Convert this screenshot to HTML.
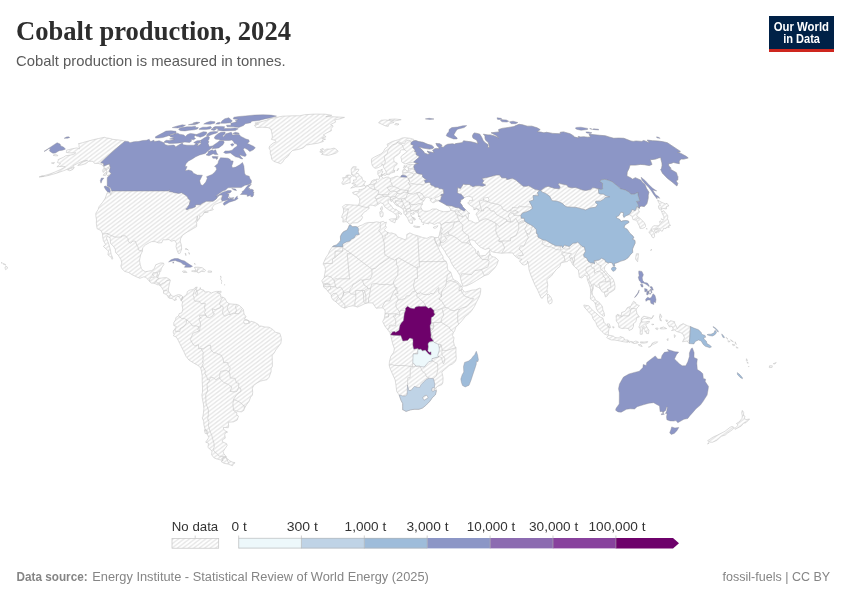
<!DOCTYPE html>
<html><head><meta charset="utf-8"><title>Cobalt production, 2024</title>
<style>
html,body{margin:0;padding:0;background:#fff;}
body{width:850px;height:600px;overflow:hidden;position:relative;font-family:"Liberation Sans",sans-serif;}
svg{position:absolute;left:0;top:0;will-change:transform;}
text{font-family:"Liberation Sans",sans-serif;}
.land{fill:url(#hatch);stroke:#c6c6c6;stroke-width:0.6;stroke-linejoin:round;}
.bord{fill:none;stroke:#c6c6c6;stroke-width:0.6;stroke-linejoin:round;}
.cc{stroke:#8a8a96;stroke-width:0.4;stroke-linejoin:round;}
.title{font-family:"Liberation Serif",serif;font-weight:bold;font-size:27px;fill:#2d2d2d;}
.sub{font-size:14.2px;fill:#5b5b5b;}
.lg{font-size:12.8px;fill:#333;text-anchor:middle;}
.ft{font-size:12.3px;fill:#858585;}
.logo{font-size:12px;font-weight:bold;fill:#fff;}
</style></head><body>
<svg width="850" height="600" viewBox="0 0 850 600">
<defs>
<pattern id="hatch" patternUnits="userSpaceOnUse" width="5.45" height="4.17">
<path d="M-5.45,8.34L10.9,-4.17M-5.45,4.17L5.45,-4.17M0,8.34L10.9,0" stroke="#e5e5e5" stroke-width="1.4" fill="none"/>
</pattern>
</defs>
<rect width="850" height="600" fill="#fff"/>
<text class="title" x="16" y="40.2" textLength="275" lengthAdjust="spacingAndGlyphs">Cobalt production, 2024</text>
<text class="sub" x="16" y="66" textLength="269.5" lengthAdjust="spacingAndGlyphs">Cobalt production is measured in tonnes.</text>
<!-- logo -->
<rect x="769" y="16" width="65" height="36" fill="#002147"/>
<rect x="769" y="49" width="65" height="3" fill="#ce261e"/>
<text class="logo" x="773.8" y="30.7" textLength="55.2" lengthAdjust="spacingAndGlyphs">Our World</text>
<text class="logo" x="783.2" y="42.7" textLength="36.8" lengthAdjust="spacingAndGlyphs">in Data</text>
<g id="map">
<path class="land" fill-rule="evenodd" d="M111.7,190.9L118.0,190.9L128.2,190.9L138.3,190.9L148.5,190.9L158.7,190.9L168.6,190.9L169.0,189.9L169.7,190.1L169.3,191.7L172.4,191.9L174.1,192.7L176.4,192.9L178.6,193.4L181.5,192.7L184.5,194.5L187.0,196.3L187.6,197.3L188.5,199.1L190.3,200.4L189.2,204.8L187.9,206.4L187.5,207.4L185.7,209.0L186.9,209.8L189.7,208.5L192.6,208.0L195.4,206.8L195.3,205.2L196.6,204.7L200.6,204.7L201.9,203.5L206.3,201.2L213.0,201.2L216.3,198.9L217.6,196.8L219.9,194.9L221.7,195.1L222.5,195.8L221.3,199.4L222.1,200.7L222.4,201.7L218.6,203.0L215.0,204.3L212.9,206.4L211.9,208.0L213.4,209.5L211.8,210.3L209.8,210.6L206.7,211.1L203.9,212.4L208.4,211.9L203.8,212.9L202.9,215.0L200.6,216.8L199.7,215.5L199.8,218.2L197.1,221.6L197.7,218.7L197.4,216.1L196.0,221.6L196.7,223.2L196.6,226.6L193.8,228.2L190.4,230.3L187.1,232.1L182.5,235.3L180.6,238.7L180.2,241.3L181.3,244.8L181.7,249.0L180.1,253.2L178.4,253.5L177.3,250.8L176.0,246.6L176.5,243.2L174.4,240.3L171.3,241.3L169.0,239.5L165.6,239.8L162.9,239.8L161.8,242.7L158.4,242.9L155.1,241.6L151.8,241.6L149.8,242.4L145.6,244.8L142.7,247.7L142.4,251.2L140.6,255.0L139.5,260.3L140.2,264.3L141.4,268.5L142.6,270.1L145.3,271.7L148.8,271.1L151.7,270.6L154.2,268.8L155.7,264.8L160.3,263.0L163.5,263.0L163.9,264.5L161.4,268.2L160.7,271.4L159.7,270.9L159.6,273.5L157.5,277.7L159.0,278.3L161.8,278.0L164.1,277.7L166.7,277.7L169.9,279.6L170.3,280.4L169.3,284.1L168.5,288.3L168.3,290.9L170.6,294.3L171.7,295.9L173.8,296.4L176.9,295.1L179.0,294.6L181.5,295.4L182.6,296.8L181.2,300.7L180.2,298.6L178.0,295.9L175.6,297.8L176.4,299.9L174.0,300.4L172.5,298.6L169.7,298.3L167.9,297.2L168.0,295.9L165.8,294.3L163.5,293.3L163.5,290.6L161.0,286.4L159.5,285.4L160.5,284.6L157.7,284.8L154.4,283.3L151.2,283.0L149.5,281.4L145.8,277.2L143.5,276.9L139.9,278.3L135.5,276.4L132.3,274.8L128.5,272.5L124.7,271.4L121.7,268.5L120.8,265.9L121.9,263.0L120.9,259.5L118.3,255.3L115.5,252.4L115.3,249.2L113.5,246.3L110.5,243.4L110.1,237.9L107.2,236.1L106.5,238.2L108.0,241.9L109.0,244.8L110.4,249.8L111.2,254.3L112.9,258.5L111.9,259.3L111.5,257.7L107.9,254.8L108.5,251.1L105.2,248.2L103.4,246.3L105.7,244.5L103.4,240.8L102.6,236.3L102.6,234.0L101.0,230.5L97.1,228.7L96.3,223.2L96.5,220.0L95.8,215.5L95.9,213.2L98.1,209.5L99.1,206.6L102.7,202.2L105.3,198.1L107.2,192.7L111.0,193.2L110.3,195.2L111.5,193.7L112.3,190.9L111.7,190.9ZM125.1,141.2L120.7,144.7L115.3,149.3L110.1,153.9L104.9,158.7L100.7,162.7L103.5,163.2L103.8,166.1L107.1,164.7L109.7,163.9L109.6,165.1L110.3,167.3L109.3,171.7L111.3,173.5L109.2,175.7L107.8,176.2L106.6,174.5L106.5,171.3L105.4,168.3L104.0,167.8L103.1,165.9L101.0,164.2L98.1,163.4L94.4,163.4L93.0,161.3L88.7,161.3L85.9,163.6L81.6,164.9L77.7,165.4L81.9,162.2L87.6,160.3L83.1,161.0L77.6,163.4L73.6,165.4L73.6,166.4L69.8,168.3L63.4,170.8L56.5,173.2L49.6,175.2L44.0,176.5L40.6,176.7L45.7,175.2L49.9,174.0L55.0,172.0L60.5,169.5L65.4,166.8L64.0,166.4L61.2,166.4L56.9,166.8L60.6,163.7L57.4,162.5L58.2,160.6L58.1,159.6L63.5,157.2L65.6,155.8L70.1,155.1L73.7,154.4L75.8,152.8L72.5,153.0L69.6,152.8L66.3,152.5L66.6,150.2L72.2,148.8L76.9,147.9L79.5,148.8L79.0,146.8L79.1,144.5L78.3,143.8L82.5,142.7L88.4,141.0L93.7,139.6L98.7,138.5L104.4,137.3L106.2,137.9L110.3,138.5L112.5,139.3L116.8,139.8L121.2,140.3L125.1,141.2ZM280.5,163.7L277.8,162.7L273.7,161.3L271.7,159.1L271.3,156.3L270.3,153.5L270.3,150.4L269.0,148.1L269.7,145.9L273.0,143.2L276.1,141.8L275.2,140.3L271.4,139.4L272.4,137.2L272.2,134.9L271.6,131.7L270.9,129.0L268.0,127.6L262.1,127.2L256.4,127.6L254.6,126.0L255.2,124.5L258.6,124.1L254.9,123.1L260.6,121.8L266.4,120.3L268.9,119.0L274.2,117.8L282.6,116.2L292.7,115.8L299.7,115.8L304.5,114.7L314.5,114.1L325.3,114.2L331.8,115.3L325.8,116.5L331.3,116.7L338.3,117.0L344.5,117.4L339.2,119.0L334.7,119.9L335.6,122.1L330.6,124.5L333.2,126.0L331.1,128.6L331.4,130.7L327.0,132.8L323.3,134.9L326.1,136.8L321.7,138.1L325.6,139.2L322.0,140.3L323.5,141.4L318.0,143.2L310.9,144.3L306.5,145.0L303.1,147.9L298.2,149.5L292.7,150.4L290.2,152.8L288.1,156.3L284.5,159.1L282.6,162.2ZM182.6,296.8L183.7,297.0L185.4,295.4L186.9,294.3L187.3,291.7L189.0,290.4L190.4,289.9L193.2,289.6L195.2,287.5L197.3,287.0L195.8,289.1L196.8,290.6L195.5,294.1L197.0,295.4L197.6,292.5L196.6,290.6L199.7,289.6L200.3,287.5L200.6,289.3L203.8,290.1L204.6,292.0L208.8,291.7L211.5,293.0L213.2,292.2L216.2,291.4L218.8,291.4L217.1,292.8L219.4,293.5L220.9,294.9L220.6,297.0L222.9,297.2L225.2,298.6L226.5,301.5L229.0,303.8L232.2,304.1L236.7,304.4L239.2,305.4L241.9,307.8L243.3,309.4L244.1,314.1L246.0,316.7L244.3,319.1L248.1,320.2L249.5,323.3L250.9,321.2L254.6,322.3L258.3,324.4L258.8,326.2L261.1,326.0L264.9,327.0L269.1,327.2L272.6,329.4L275.7,332.3L279.9,333.4L281.1,337.3L281.4,339.7L280.8,343.4L277.8,347.3L275.8,350.0L273.7,353.7L272.1,355.2L272.3,360.5L272.4,366.3L271.1,368.4L271.1,371.6L269.0,377.4L266.8,379.8L263.9,380.3L260.6,381.1L257.1,382.9L253.6,385.6L252.3,388.2L252.7,392.2L252.4,395.1L250.6,397.2L249.0,401.4L246.6,404.6L244.3,408.5L243.8,410.4L241.6,411.8L238.8,411.7L235.0,410.6L233.4,409.0L233.5,410.6L236.8,412.7L236.8,415.1L238.5,416.1L237.2,420.1L233.3,421.9L228.2,422.2L228.7,425.9L228.3,427.7L223.3,427.4L223.6,429.3L225.8,431.1L227.6,432.1L225.7,432.7L224.7,434.5L225.3,438.1L222.3,439.9L222.3,441.7L226.7,443.8L227.1,445.6L224.8,448.9L223.1,451.5L223.7,453.5L226.3,456.8L224.1,457.3L221.8,458.1L222.7,460.6L220.0,459.8L217.3,459.1L214.3,458.1L211.6,454.8L212.0,451.0L207.9,447.4L208.6,443.3L205.7,442.2L207.0,440.2L208.8,437.6L207.4,434.2L207.9,431.3L205.2,429.5L203.9,424.8L203.7,421.1L202.1,417.7L202.8,417.2L203.3,414.0L203.9,408.5L203.4,404.0L202.5,399.5L201.9,395.1L202.5,392.2L202.5,387.4L202.2,381.6L202.2,376.1L201.5,371.3L200.7,368.0L198.1,365.5L193.5,362.9L188.9,360.0L186.0,356.3L183.8,351.6L181.4,346.8L179.8,343.6L177.5,338.9L176.3,337.1L173.4,335.7L174.1,334.4L173.1,332.0L173.9,329.9L175.3,328.6L176.4,326.5L173.8,325.5L173.8,322.6L175.6,319.8L175.9,317.5L178.5,316.0L179.2,313.6L181.8,312.8L182.8,309.4L182.0,304.9L182.6,301.7L181.2,300.7ZM349.3,225.3L350.6,225.0L352.3,226.8L355.6,226.6L357.4,227.1L359.6,225.8L362.2,225.0L365.0,223.4L368.7,222.4L373.1,222.6L376.3,221.8L379.6,222.4L383.5,221.3L384.9,222.9L386.4,222.1L385.4,225.3L386.4,227.4L384.4,229.5L386.7,232.1L389.9,233.2L391.6,232.9L396.1,234.5L397.4,236.9L401.2,238.2L405.1,239.8L406.8,237.9L406.8,234.5L409.8,232.9L413.7,234.7L417.8,235.8L422.3,237.4L426.9,238.4L429.6,236.9L431.6,236.6L434.1,237.1L435.1,240.5L434.9,240.8L437.6,246.1L438.9,249.2L441.3,253.7L443.1,256.6L443.0,259.0L446.3,261.6L447.2,264.3L447.4,268.2L448.2,270.6L450.8,272.2L452.5,277.5L453.7,279.8L457.3,281.4L460.2,284.8L461.9,286.4L462.4,288.3L461.3,289.3L462.5,289.6L464.9,292.2L468.3,291.2L472.0,290.1L475.4,289.9L479.8,288.1L480.8,288.5L480.6,292.1L480.0,294.9L478.5,298.3L476.3,302.5L474.3,306.7L471.6,310.7L469.3,313.3L465.4,316.5L462.4,320.2L459.8,323.1L457.4,325.7L455.8,327.3L454.6,331.0L453.4,332.6L452.4,335.5L454.0,337.8L453.4,341.5L454.5,345.8L456.0,347.6L455.9,352.9L456.3,358.4L455.5,361.3L452.6,363.9L449.1,365.5L446.9,367.6L444.5,369.7L441.8,372.1L442.8,376.1L443.1,378.2L442.8,382.7L442.0,384.5L437.6,386.4L435.9,388.2L436.4,390.6L435.4,394.8L432.3,397.7L429.7,401.4L425.6,405.6L422.5,408.0L418.9,409.3L414.2,409.3L410.7,409.8L406.1,411.4L403.6,410.1L402.7,409.8L402.7,406.1L402.7,403.5L401.0,400.3L399.2,395.1L396.7,391.4L396.0,385.6L395.2,380.0L392.8,374.8L389.7,367.6L389.2,365.1L389.4,361.8L390.8,356.3L393.7,352.3L394.4,348.7L392.6,343.6L390.8,335.7L390.6,334.9L389.9,332.6L387.8,329.9L384.8,326.0L382.7,321.5L384.1,318.9L384.6,317.0L385.0,313.6L385.2,311.2L384.5,309.4L382.2,307.8L378.5,308.0L376.2,308.3L374.8,306.2L372.7,303.0L368.5,302.8L365.0,303.6L361.0,305.5L357.5,307.1L355.0,306.2L352.9,305.8L348.7,306.5L344.7,308.2L341.3,306.7L337.1,303.0L335.5,301.5L333.2,300.1L331.3,297.2L331.4,294.9L328.4,292.2L327.5,290.6L323.6,287.0L323.4,284.3L321.8,280.8L324.2,277.5L324.8,273.5L325.5,269.6L324.9,266.7L323.3,264.3L323.4,263.2L325.8,257.7L328.4,254.0L329.7,250.6L332.5,246.6L333.2,246.0L336.4,245.0L339.3,242.4L340.6,240.3L340.4,236.6L341.6,234.0L343.4,231.8L347.2,230.0L348.6,227.1ZM413.9,140.7L415.8,140.5L418.7,141.6L423.1,142.3L427.1,144.1L431.8,145.4L433.8,147.2L432.9,148.6L429.5,149.1L423.1,148.1L418.4,146.8L420.7,148.6L423.8,151.6L424.3,153.0L427.5,154.2L430.1,153.9L428.6,153.0L427.2,151.1L429.5,151.8L432.9,152.5L434.2,152.5L432.6,150.4L434.7,148.8L436.3,148.4L439.1,148.8L438.8,147.2L437.1,145.9L435.9,143.4L439.8,143.8L442.0,145.2L441.0,147.0L443.7,147.2L444.8,145.7L447.6,144.3L452.6,143.8L454.5,144.3L455.9,143.6L459.8,143.0L462.2,142.7L463.7,140.7L464.7,141.0L471.0,141.8L474.9,142.7L478.1,143.8L476.8,140.3L473.0,138.1L472.4,135.9L473.4,133.8L474.4,133.0L477.1,133.4L479.8,134.2L481.5,137.0L483.0,140.3L485.1,142.7L488.1,144.7L487.8,147.9L489.5,147.0L488.9,144.7L488.3,142.5L485.7,140.3L485.0,138.1L485.0,135.9L483.4,134.2L487.9,134.9L490.3,134.9L494.4,135.9L498.9,138.1L496.2,135.5L491.2,132.8L499.1,131.9L498.6,129.6L502.1,128.4L508.8,127.4L514.0,126.6L515.9,125.6L519.1,124.3L522.5,124.8L527.3,126.2L531.9,126.2L537.0,127.8L540.2,129.6L537.1,131.7L540.8,132.1L543.9,132.8L546.6,132.3L552.7,133.4L560.4,133.8L560.2,132.3L563.6,131.9L570.1,133.8L573.6,135.9L573.7,136.8L578.8,138.1L578.3,136.4L580.7,137.0L583.7,136.8L587.6,137.2L590.6,137.0L589.3,134.9L589.2,134.0L591.9,134.5L599.6,135.3L605.1,135.7L609.8,137.2L613.8,138.3L618.5,138.1L623.8,138.3L630.9,141.0L633.2,141.4L636.0,141.0L641.7,141.4L643.7,140.5L649.9,143.0L647.2,140.1L652.4,140.7L657.8,141.0L662.2,141.6L667.3,142.7L680.4,151.4L679.6,152.1L677.3,152.3L680.4,153.2L686.1,156.3L688.2,157.9L683.9,159.1L681.2,159.1L679.1,161.0L679.3,163.7L673.5,162.5L671.0,163.4L668.5,163.7L668.8,165.9L671.1,168.3L669.7,168.8L676.4,172.7L677.3,175.7L677.9,176.7L677.7,180.0L675.9,180.7L677.8,183.5L676.9,186.0L672.2,182.0L667.3,178.2L662.5,173.2L660.7,169.5L661.6,168.3L662.1,165.4L662.0,163.0L661.1,159.8L660.8,157.5L658.7,157.9L655.6,159.1L653.2,159.4L650.1,159.8L652.0,164.4L649.2,165.6L644.4,164.7L640.4,164.4L635.6,165.1L630.0,165.1L628.9,168.8L627.2,172.0L626.9,176.0L630.4,177.7L632.7,179.2L635.3,177.7L640.9,180.2L642.7,182.7L644.9,184.5L646.4,188.3L648.9,192.2L648.2,195.2L648.2,198.1L647.5,201.2L646.8,203.8L644.3,206.6L640.9,206.1L639.5,207.4L639.4,208.2L639.4,208.2L638.4,209.8L639.5,212.1L637.0,214.2L636.8,216.1L639.5,217.9L640.8,219.2L643.9,222.1L645.4,224.7L645.5,226.6L644.5,227.6L642.6,228.4L640.0,228.4L639.4,226.0L638.0,223.4L637.8,222.1L635.6,220.1L632.9,219.5L632.5,218.2L632.1,216.1L630.2,215.3L629.1,214.5L629.1,214.5L625.9,215.8L623.9,217.4L623.2,215.5L623.5,212.7L620.9,212.1L618.8,215.8L616.1,216.8L616.6,217.9L619.9,219.5L621.0,221.6L622.9,220.8L625.8,220.5L628.6,221.1L629.0,222.4L625.2,224.7L623.9,227.4L627.1,229.2L630.0,233.4L633.0,236.1L633.9,237.9L632.2,239.0L635.0,240.5L635.1,243.2L633.9,245.8L632.5,249.0L632.7,252.4L630.1,255.0L628.1,257.7L625.1,259.8L622.6,260.6L620.8,261.1L617.2,262.7L614.2,263.5L614.8,265.9L613.5,266.1L612.3,263.0L609.9,262.4L608.6,263.0L608.6,263.0L606.2,264.8L604.7,266.9L604.4,269.6L606.5,272.2L608.1,274.3L611.5,277.2L613.2,279.3L614.6,283.3L615.0,286.7L614.6,289.6L610.9,292.2L609.5,292.5L606.8,296.4L605.4,297.0L604.2,292.2L602.3,292.0L600.4,289.1L598.6,287.5L595.5,286.2L594.6,284.1L593.2,284.3L593.2,288.5L592.1,292.0L592.5,295.1L594.3,297.2L595.7,300.4L598.0,301.5L600.0,303.3L602.5,306.7L602.8,309.9L604.1,312.8L604.6,316.0L603.2,316.2L601.1,314.4L598.3,312.0L596.5,309.1L595.7,305.4L594.9,302.8L593.4,301.2L590.5,299.1L590.4,297.2L590.8,293.3L590.4,288.0L589.1,284.1L587.5,280.1L586.8,276.1L584.8,275.1L581.9,278.0L579.3,277.2L578.4,270.1L575.0,267.2L573.1,265.1L571.9,263.0L570.5,260.1L568.5,260.1L567.4,261.6L565.1,261.9L565.1,261.9L562.9,262.4L560.7,263.2L560.0,266.4L556.9,268.8L553.5,273.0L551.5,275.9L548.8,278.0L546.8,279.6L547.8,285.1L547.0,289.3L547.3,292.5L545.5,295.1L543.7,296.2L542.3,298.3L541.0,297.8L539.1,293.5L537.7,290.1L535.1,285.4L532.3,278.8L530.7,274.8L529.0,269.6L528.5,264.3L527.6,261.1L527.1,264.0L524.2,265.1L522.1,264.3L519.4,260.9L522.0,259.3L518.0,258.5L517.2,257.4L517.2,257.4L515.5,256.6L513.4,254.3L512.8,252.9L506.0,252.9L501.7,253.2L496.9,252.7L493.0,252.1L491.1,251.1L489.1,248.2L485.2,249.5L480.7,247.4L476.4,243.4L474.4,240.5L471.7,239.8L469.3,240.5L469.7,242.1L470.9,244.5L472.5,246.9L475.5,249.5L475.8,252.4L477.4,254.3L477.2,252.1L478.2,250.8L479.1,253.7L479.4,256.1L481.6,255.8L485.6,255.3L487.4,252.9L489.1,251.6L489.6,250.3L490.0,254.0L491.6,256.4L495.4,257.4L498.4,260.3L496.6,265.3L494.5,268.2L491.8,270.9L488.6,274.3L484.4,275.7L482.4,276.9L476.4,280.6L471.9,283.3L466.2,285.9L462.8,286.2L462.3,284.6L460.9,280.1L460.0,275.6L456.9,270.6L453.7,266.9L451.4,263.0L449.8,259.0L446.8,255.0L444.7,251.1L440.9,245.6L440.4,241.9L439.3,246.5L436.7,244.2L435.0,240.5L434.7,237.6L437.1,237.6L438.5,237.1L439.4,234.7L439.8,232.4L440.6,229.5L441.0,226.8L440.9,225.0L440.3,223.2L437.4,222.9L434.3,224.5L432.0,223.4L429.1,222.5L428.8,223.9L425.7,223.2L423.6,222.6L421.6,222.1L421.2,219.7L419.1,218.7L420.1,217.6L419.7,216.1L418.4,215.5L418.4,214.1L417.8,212.1L417.8,212.1L414.5,211.9L413.1,212.4L414.5,213.8L413.7,214.2L412.7,214.4L410.8,212.9L410.7,214.2L411.5,215.8L411.8,217.1L414.2,218.9L414.4,220.3L413.2,219.7L411.7,220.5L412.6,221.3L412.6,223.4L411.1,223.5L409.5,222.6L408.4,220.3L407.9,218.7L406.9,217.1L405.2,215.0L403.8,213.2L403.8,210.8L403.2,209.3L401.4,208.0L399.2,206.6L395.9,205.1L394.1,203.0L392.4,200.4L391.3,201.7L390.6,200.9L390.5,199.4L387.8,200.4L388.4,203.3L390.8,205.1L392.9,208.2L394.5,209.3L396.2,209.3L397.4,210.8L400.5,212.4L401.9,214.0L400.8,214.4L398.6,212.9L397.9,215.0L399.3,216.8L398.1,218.4L397.1,219.7L396.2,219.5L396.7,216.8L395.9,214.2L394.4,213.7L392.8,212.1L391.0,211.1L388.4,209.8L387.3,208.7L384.4,206.6L383.6,204.0L380.6,202.7L378.0,204.3L375.3,206.1L372.7,205.3L370.6,205.1L368.5,206.4L369.2,208.2L366.9,210.6L364.1,212.1L361.6,215.5L362.6,217.5L360.7,220.5L357.4,222.8L352.6,222.9L350.5,224.3L349.1,224.2L348.2,222.9L346.1,221.6L342.8,222.1L343.2,218.4L341.7,217.6L342.0,215.8L343.6,212.1L343.5,209.0L342.5,206.6L345.4,204.6L350.0,204.8L354.2,205.1L358.4,205.3L359.7,202.2L359.7,198.6L357.9,196.5L357.1,195.2L353.4,194.0L352.6,192.4L356.1,191.4L359.1,191.8L359.0,189.2L359.8,189.9L362.6,189.1L365.4,187.8L365.4,186.0L367.4,185.5L369.2,184.8L370.8,183.0L371.7,181.0L374.0,179.7L376.0,180.0L376.2,179.2L378.9,179.2L379.7,178.2L379.1,176.0L377.9,174.5L377.8,173.2L377.9,170.8L380.3,170.3L382.3,169.0L381.9,170.8L383.1,172.0L382.0,172.7L381.6,174.5L381.5,176.2L381.7,177.0L383.4,178.2L383.8,178.2L386.6,177.2L388.6,177.2L390.1,178.5L393.5,177.5L395.3,176.5L398.0,176.2L398.8,177.2L400.5,177.1L401.0,176.6L401.1,175.8L402.8,175.0L402.9,175.0L403.0,174.0L402.8,173.0L402.4,171.3L403.3,169.5L405.1,169.0L406.1,170.5L407.9,170.8L408.8,170.3L408.3,168.6L408.5,167.6L406.5,166.8L406.2,165.4L408.0,164.7L410.7,164.4L414.5,164.7L416.2,163.7L418.4,163.6L416.0,163.0L413.6,162.1L413.1,162.2L408.6,163.0L405.1,163.9L404.1,163.4L401.6,161.8L401.6,159.8L400.8,156.8L402.6,155.1L405.8,152.8L407.0,151.6L404.7,149.8L401.7,149.8L400.1,150.9L400.1,152.8L398.1,154.6L395.6,156.3L394.0,157.5L393.7,159.4L394.2,161.8L397.3,163.2L396.8,164.7L394.2,166.6L393.6,169.5L393.0,172.5L390.2,173.2L389.9,174.2L388.4,174.7L387.2,174.5L386.6,172.5L385.1,169.8L383.5,167.3L383.2,165.6L381.9,163.7L381.9,165.4L378.3,167.6L375.5,168.3L374.5,168.1L372.5,165.9L371.7,163.4L371.4,161.0L371.7,158.7L374.9,156.8L378.4,155.1L381.0,153.9L383.4,151.6L384.9,148.8L388.1,146.3L387.0,144.3L389.4,143.0L392.5,141.4L395.7,140.5L398.9,139.6L401.9,138.1L404.8,137.7L406.8,137.9L410.2,138.3L413.8,139.4L413.9,140.7ZM636.4,253.7L638.5,253.7L638.2,256.9L637.6,261.8L635.5,259.0L636.0,255.8ZM547.5,294.1L548.4,294.3L550.9,297.2L552.2,300.4L551.9,302.8L549.6,304.0L548.1,302.8L547.5,299.1L547.6,296.4ZM69.0,170.5L67.5,169.8L70.5,168.6L74.3,167.3L73.1,169.3L69.9,170.8ZM53.1,155.3L55.4,155.8L57.9,155.8L57.3,154.9L54.6,154.6ZM51.4,163.0L53.7,163.7L54.4,162.5ZM39.0,177.0L41.8,176.7L43.7,176.3L42.1,175.8ZM103.0,175.2L105.5,175.7L106.7,173.2L105.4,172.5ZM102.6,170.8L103.3,172.5L105.3,170.3L105.2,168.6L103.3,168.8ZM106.1,170.3L109.1,167.8L107.3,167.6ZM5.0,267.6L5.5,269.7L7.6,268.2L7.2,266.9L5.8,266.3ZM4.3,264.5L5.7,265.2L5.5,264.4L4.6,264.1ZM3.0,264.0L4.3,263.9L3.8,263.8ZM1.2,262.8L2.3,263.5L2.0,262.4ZM-1.9,261.5L-1.1,261.9L-1.0,261.1ZM191.5,271.1L193.8,271.7L197.0,271.7L198.0,273.0L201.6,271.4L204.5,271.7L205.6,270.3L202.2,267.7L198.1,267.2L195.2,267.2L194.2,267.7L195.4,268.8L195.9,270.6L193.6,270.6ZM182.3,271.4L183.6,272.5L187.0,272.5L185.8,271.1L183.7,270.9ZM207.9,272.2L211.6,272.2L211.5,271.1L208.3,270.9ZM185.1,253.2L185.9,255.6L185.9,253.7ZM186.7,248.7L188.2,250.3L187.9,249.5L185.1,249.0ZM188.6,252.4L189.4,254.3L189.4,252.9ZM194.0,263.8L195.5,264.3L194.9,263.5ZM218.7,293.0L220.8,293.0L221.1,291.2L219.2,291.4ZM220.0,276.7L221.3,277.5L220.7,276.1ZM221.0,280.6L221.9,281.4L221.5,280.4ZM221.1,283.0L221.5,283.5L221.5,282.5ZM224.3,285.1L224.8,285.1L224.6,284.6ZM220.4,279.3L221.0,279.3L220.7,278.5ZM226.2,457.6L222.8,458.1L222.9,460.6L221.2,461.6L224.0,463.3L228.2,464.1L232.5,465.8L233.1,464.1L235.1,462.8L232.2,462.1L229.4,460.6L227.4,458.6ZM204.4,429.8L205.9,429.8L207.1,434.0L205.2,433.4ZM244.1,320.2L246.9,320.2L249.5,321.0L248.6,323.3L244.6,323.9L243.7,321.8ZM350.7,188.2L353.7,187.4L355.4,186.8L358.4,186.8L361.8,186.3L365.0,185.3L363.6,184.5L365.6,181.5L363.0,180.7L362.4,179.2L361.8,177.0L359.5,175.7L358.3,173.5L356.0,173.2L358.4,170.8L358.8,169.3L355.7,169.0L354.4,169.3L356.4,166.8L352.8,166.8L351.2,169.3L351.3,171.5L351.5,174.7L352.9,174.2L352.7,176.2L355.6,176.0L356.3,178.7L356.1,180.0L353.3,180.0L353.9,181.2L354.1,182.5L351.8,183.5L354.4,184.3L356.2,184.8L353.6,185.8ZM350.0,180.0L350.3,182.7L348.5,183.0L345.6,183.8L342.8,184.5L341.7,183.0L343.6,180.2L342.6,177.7L345.6,177.5L346.1,175.5L348.0,175.0L350.4,175.2L351.5,177.0L350.0,178.2ZM321.5,154.3L325.7,155.1L328.4,155.3L332.7,154.2L336.2,153.0L338.2,151.4L336.3,149.3L334.0,148.1L330.2,149.1L326.7,149.1L324.5,150.4L323.0,148.4L320.1,149.8L323.3,151.4L319.7,151.8L323.0,153.2ZM378.5,122.7L382.6,124.6L385.1,125.8L388.2,126.4L388.6,124.6L390.6,123.3L394.1,122.5L389.9,120.6L385.4,119.9L381.1,120.3ZM388.8,119.4L394.4,121.0L401.2,119.7L395.2,119.0ZM394.7,124.6L397.8,125.0L399.0,124.1L395.8,123.3ZM389.2,219.5L391.2,218.9L396.0,218.8L395.1,222.1L394.9,222.9L392.7,221.8L390.2,220.7ZM379.7,211.9L381.8,211.1L383.2,212.9L382.9,216.3L381.4,217.1L380.3,216.3ZM380.4,208.0L382.1,206.4L382.5,208.7L381.8,210.6L380.9,210.0ZM413.9,225.8L416.3,226.3L419.9,226.6L419.5,227.4L416.4,227.5L413.7,226.7ZM433.1,227.6L434.8,228.4L436.9,227.4L438.0,225.7L435.6,226.4L434.4,226.8ZM383.5,174.0L385.3,173.0L386.6,174.0L385.9,175.2L383.9,175.2ZM381.2,174.5L382.9,174.5L383.0,175.6L381.8,175.5ZM396.8,170.8L397.9,168.6L398.8,168.6L397.9,170.3ZM393.8,172.7L394.8,169.9L394.3,172.0ZM403.4,167.7L403.7,167.0L406.1,166.8L405.5,167.7L403.9,168.4ZM403.7,166.1L404.6,165.6L405.4,166.2L404.6,166.6ZM412.3,217.4L414.5,217.9L415.5,219.5L413.9,218.7ZM418.0,216.3L419.3,215.9L419.4,216.8ZM422.9,223.9L423.8,223.7L423.2,224.9ZM650.8,230.0L652.7,228.9L655.1,229.2L658.3,228.2L659.3,228.4L660.5,230.5L662.2,231.3L663.4,229.2L663.5,228.4L666.1,228.4L666.8,227.1L669.2,227.4L668.4,225.8L670.5,225.5L669.0,223.4L668.5,220.8L667.4,218.7L667.8,217.1L667.6,215.3L665.4,212.7L663.5,210.6L663.1,211.6L661.5,211.1L662.3,213.4L663.8,216.6L664.0,218.9L663.1,220.5L661.4,222.6L660.4,220.8L659.5,221.6L660.2,223.4L659.6,224.7L659.0,225.8L656.1,225.8L653.7,225.8L653.0,226.6L651.3,228.2ZM660.2,210.0L662.0,209.8L661.0,208.0L666.4,209.0L666.5,206.6L668.8,205.9L667.0,203.3L665.3,203.9L661.4,202.2L657.5,199.9L658.7,202.5L660.4,205.6L658.4,205.9L658.7,208.2ZM649.7,231.1L651.1,230.3L653.0,231.1L654.3,233.2L654.6,236.6L653.5,237.9L652.1,237.1L651.1,234.5L649.4,233.2L648.9,231.8ZM654.4,230.3L657.2,229.1L659.3,230.3L659.0,232.1L656.6,231.8L656.1,233.3L654.8,231.6ZM661.3,218.7L662.2,219.2L662.4,220.0ZM650.8,250.8L651.7,249.0L651.0,249.8ZM647.1,229.2L646.6,228.2L646.7,229.2ZM583.8,305.0L589.0,305.9L590.9,308.6L595.0,312.3L597.2,314.1L600.2,317.0L603.0,318.3L604.0,322.3L605.8,324.4L609.2,327.6L608.6,331.3L608.2,334.9L606.8,334.9L604.7,334.2L601.8,331.5L600.3,329.9L597.4,326.5L595.8,322.3L593.0,318.9L592.0,315.2L589.7,313.3L586.8,309.9L584.4,307.3ZM606.7,337.6L608.6,335.2L610.9,335.5L613.9,336.3L614.8,337.6L618.7,338.0L620.0,336.5L623.8,337.8L624.6,340.0L628.1,340.0L627.7,342.3L623.8,341.8L617.6,340.5L614.4,340.0L611.6,340.0L609.3,339.2ZM616.0,315.7L617.6,314.4L621.2,316.0L621.6,312.5L625.2,311.2L627.4,307.5L630.6,306.5L632.1,303.6L633.6,301.2L635.8,302.8L635.8,304.1L639.4,305.7L637.0,308.0L636.1,309.9L637.0,313.6L639.4,317.0L636.8,317.5L635.9,321.8L633.5,323.6L633.5,326.2L632.2,329.1L629.1,330.5L628.7,328.6L625.2,328.1L622.2,328.6L618.8,327.3L618.6,324.1L616.3,321.0L616.3,318.6ZM641.2,319.4L641.7,317.8L643.8,316.2L648.4,317.3L651.9,318.3L653.8,315.7L653.3,315.2L651.7,318.6L649.4,318.9L645.2,318.3L641.9,319.6L641.7,322.0L644.2,322.0L645.4,321.9L649.4,321.2L649.4,322.3L645.6,324.7L647.4,328.1L648.9,330.2L648.5,333.6L646.6,333.6L646.7,332.0L644.9,331.8L645.2,330.5L643.6,329.1L644.2,326.5L642.3,327.3L642.4,330.5L642.2,334.2L640.1,334.2L640.3,328.9L638.8,327.0L639.8,325.2L640.0,323.1L641.2,322.0ZM690.5,326.5L687.9,326.0L683.1,323.6L679.6,325.5L677.4,328.6L674.5,322.8L674.8,321.8L670.6,320.7L667.3,323.3L669.5,327.0L672.1,326.2L673.4,329.4L671.5,330.5L674.5,329.9L676.7,331.5L680.4,332.6L682.9,333.9L684.5,337.8L682.5,341.8L687.0,341.0L689.3,343.6L689.8,337.8L690.1,332.8ZM628.0,341.0L630.8,341.5L629.5,342.9ZM631.3,341.5L633.1,342.1L632.3,343.2ZM633.3,342.1L635.9,341.0L638.6,342.3L637.2,343.1L633.6,343.6ZM640.5,341.8L644.2,342.1L647.7,341.5L647.2,342.6L643.7,343.2L640.4,342.9ZM638.2,344.7L641.0,344.7L642.2,346.5L639.7,345.8ZM648.4,347.1L650.6,346.5L652.0,343.4L654.7,342.1L657.7,341.8L656.7,342.9L652.6,344.7L649.6,346.8ZM659.4,317.0L660.2,313.8L661.9,317.0L660.3,318.6L661.5,321.0L660.1,320.4L659.9,318.3ZM659.9,328.1L663.7,327.0L666.7,328.6L663.6,328.9L660.6,328.9ZM655.7,328.1L658.1,328.1L657.5,329.7L655.9,329.1ZM607.2,323.9L609.3,323.9L610.6,327.6L608.7,327.3ZM612.7,326.5L614.3,327.3L613.1,328.1ZM674.2,334.7L675.6,335.7L674.5,337.6ZM666.9,339.4L668.2,338.6L667.8,340.7ZM651.7,324.1L654.0,324.4L652.1,324.9ZM665.7,319.9L667.8,320.4L666.8,322.0ZM742.3,410.4L743.7,412.5L743.5,415.6L745.0,416.1L744.3,418.5L746.0,419.6L749.6,419.0L746.0,422.7L743.4,423.2L741.2,426.1L735.1,429.3L734.7,428.5L737.9,425.6L737.8,424.8L736.4,423.5L739.2,421.9L742.1,418.2L742.3,415.9L741.7,412.5ZM732.0,426.4L734.4,427.7L732.4,429.8L727.4,433.2L725.3,435.0L721.3,436.3L716.8,440.4L712.6,442.2L710.1,442.2L707.6,440.7L713.5,436.8L717.1,435.3L725.0,431.3L729.9,427.4ZM708.2,442.8L709.2,443.0L707.7,444.1ZM726.1,337.3L728.0,339.2L726.9,338.6ZM727.9,340.7L730.1,341.5L728.5,342.1ZM732.4,344.2L735.1,345.0L733.2,345.8ZM735.2,341.8L736.3,344.4L735.3,343.4ZM736.1,346.8L738.2,347.9L736.6,348.1ZM730.6,339.7L733.4,341.8L731.4,341.0ZM746.5,358.7L747.5,360.5L746.3,360.8ZM747.2,361.8L748.3,363.2L747.4,363.2ZM748.6,366.1L749.1,366.6L748.4,366.6ZM769.5,365.8L772.3,365.8L772.1,367.4L769.3,367.6ZM773.3,363.7L776.3,362.6L774.8,363.9ZM424.1,211.2L422.0,210.0L421.7,209.0L420.8,207.2L421.2,205.3L422.4,204.6L422.3,202.5L423.9,200.7L424.9,199.1L425.7,197.3L428.1,197.1L429.6,198.3L431.9,198.3L429.9,200.2L432.3,202.5L433.8,202.7L436.1,201.2L438.3,200.9L438.7,200.7L440.2,201.7L441.8,202.5L444.1,203.8L446.5,205.3L448.9,206.6L450.6,209.0L450.7,210.3L449.7,211.1L447.0,211.6L443.4,211.7L440.0,210.8L436.5,209.0L432.3,209.0L429.4,210.8L426.2,211.3ZM438.4,200.3L435.7,199.9L434.8,198.6L435.6,197.3L438.2,196.8L439.7,195.8L440.9,195.8L443.1,195.5L441.3,196.8L440.9,198.9L440.5,200.2ZM464.1,197.8L466.1,196.8L468.9,196.3L471.8,197.1L473.0,200.4L469.5,200.4L469.0,202.5L467.6,203.0L470.9,205.9L473.8,207.4L473.9,209.8L476.4,208.7L478.9,211.1L477.4,212.1L476.0,214.2L477.2,216.1L479.4,221.3L477.7,222.6L475.2,223.2L471.5,221.1L468.6,220.5L468.0,218.4L468.6,215.8L467.9,213.7L470.0,213.4L468.1,212.4L466.9,210.8L465.5,209.5L464.8,209.0L462.6,206.6L462.0,205.1L460.0,202.7L460.5,202.0L461.0,199.6L462.9,199.1ZM483.4,198.1L485.6,197.8L488.0,197.3L489.1,199.9L487.6,201.7L485.1,201.7L483.4,200.2Z"/>
<path class="bord" d="M102.6,234.0L108.1,233.4L107.7,234.0L115.1,237.1L121.3,237.1L121.7,235.8L125.5,235.8L128.0,238.7L128.3,241.6L130.7,243.2L132.9,241.1L135.3,241.1L136.8,245.0L138.1,247.1L138.4,250.0L142.4,251.2M149.5,281.4L149.7,279.3L151.1,277.2L154.1,277.2L154.2,276.4L152.1,274.2L153.0,274.2L153.2,272.7L157.5,272.7L159.7,270.9M157.5,272.7L156.8,277.7L157.5,277.7M159.0,278.3L156.5,280.1L156.0,281.7L154.1,283.4M156.0,281.7L157.8,283.0L159.7,283.3L159.3,284.3M160.4,285.4L162.0,283.3L164.3,283.0L166.6,280.6L170.3,280.2M163.7,290.4L166.0,290.4L167.8,291.3L168.4,290.9M169.7,298.3L169.9,295.7L170.6,294.3M198.0,267.7L197.8,270.1L197.1,270.6L197.5,272.1M182.6,296.8L182.7,298.8L181.2,300.7M197.2,288.5L194.5,290.4L192.9,295.1L194.1,297.5L194.0,300.1L195.1,301.2L199.3,301.2L200.9,303.6L205.3,303.3L204.5,307.8L205.6,310.7L204.4,312.3L205.9,315.2L206.4,316.5M206.4,316.5L205.9,315.2L203.4,315.2L199.7,315.2L199.6,316.7L201.3,318.1L199.2,318.2L199.2,320.2L200.6,322.6L199.6,330.7M199.6,330.7L197.7,329.7L199.0,326.8L196.0,325.8L192.5,326.0L190.6,323.1L186.8,319.9L186.8,319.9M186.8,319.9L184.5,318.6L181.9,318.6L178.5,316.0M186.8,319.9L186.1,323.6L183.9,326.5L180.2,328.6L179.8,331.8L177.0,331.3L175.1,331.3L175.3,328.6M222.9,297.2L221.2,299.9L220.2,302.0L219.5,304.1L221.0,305.9M206.4,316.5L207.8,317.7L209.6,317.5L212.7,315.7L213.2,314.5L214.6,313.8L213.2,313.1L212.1,308.8L215.8,309.9L216.3,309.1L220.3,307.8L221.0,305.9L222.7,306.2L223.3,308.0L222.5,312.3L223.2,314.9L225.0,316.2L226.2,315.7L228.8,314.4L230.6,314.6L231.8,313.6L233.9,313.1L235.1,313.6L236.9,313.6L239.0,313.8L241.9,308.8M229.0,303.8L227.5,307.0L227.2,309.1L230.6,314.6M236.7,304.4L235.4,306.7L236.5,310.2L235.1,313.6M199.6,330.7L192.7,333.4L192.0,335.7L190.3,339.4L193.1,344.4L194.8,346.0L198.5,344.7L198.7,348.7L201.0,348.5M201.0,348.5L203.3,348.9L207.8,345.8L210.5,345.2L211.0,350.0L213.5,352.6L216.5,353.1L218.9,354.5L221.3,355.2L223.2,359.2L223.6,362.6L227.8,362.6L228.2,365.3L230.2,367.6L229.7,369.7L229.0,371.9M201.0,348.5L203.3,352.6L202.8,355.8L203.2,360.0L202.3,361.0L203.4,363.2L202.2,365.3L202.5,365.8L200.7,368.0M202.5,365.8L203.7,367.9L205.3,370.8L204.9,373.4L206.6,376.3L207.7,379.8L209.2,379.8M209.2,379.8L211.0,377.1L213.6,377.9L215.8,379.8L219.0,377.7L219.6,378.3M219.6,378.3L219.8,373.7L220.7,371.3L226.8,370.5L229.0,371.9M229.0,371.9L229.9,374.2L230.2,377.9L235.1,378.4L236.4,382.9L238.9,383.2L238.6,387.2M219.6,378.3L223.6,382.4L228.4,384.5L231.8,386.9L230.1,391.4L235.1,391.9L236.9,391.4L238.6,387.2M238.6,387.2L240.8,388.7L240.9,391.4L236.8,394.5L233.5,399.3M233.5,399.3L237.6,401.1L240.7,402.7L243.1,405.3L244.3,405.9L244.3,408.5M233.5,399.3L232.9,404.0L233.4,409.0M209.2,379.8L209.8,380.3L207.0,384.3L207.5,390.8L205.7,394.8L205.9,399.8L206.1,404.0L208.4,409.8L208.3,414.8L207.7,419.0L209.0,421.7L208.3,425.1L209.7,430.3L211.8,435.5L212.8,439.4L214.0,443.3L214.2,447.1L213.1,449.7L215.4,452.8L217.1,453.5L218.8,456.1L225.0,456.6L226.3,456.8M226.2,457.6L228.7,463.3M332.6,246.7L342.7,246.7L342.7,247.7M342.7,247.7L342.6,251.1L335.1,251.1L334.9,257.7L332.6,259.0L332.3,263.5L323.4,263.4M342.7,247.7L351.3,253.7L364.9,264.0L369.5,267.4L371.9,269.2L375.5,268.2L379.3,264.5L389.5,257.7M342.7,244.0L342.7,246.7M380.9,222.4L380.1,224.7L380.4,228.2L378.7,230.3L382.2,235.0L383.4,239.8L384.4,243.7L384.3,249.8L384.9,254.8L389.5,257.7M383.4,239.8L385.2,238.2L384.9,235.8L387.7,234.2L387.6,232.2M389.5,257.7L394.5,260.1L396.3,259.0L398.6,257.8L417.2,268.2L417.1,266.9L419.4,266.9L419.2,261.6L417.8,236.2M419.2,261.6L433.8,261.6L446.3,261.6M334.9,257.7L342.6,251.1M351.3,253.7L347.2,253.7L349.3,276.1L350.0,278.8L340.8,278.8L337.5,279.0L335.7,278.5L334.1,280.6L334.1,280.9M324.2,277.5L327.7,275.9L331.3,277.2L334.1,280.6L335.8,287.0L330.5,286.4L327.1,286.2L323.6,287.0M323.4,285.0L326.6,284.3L330.3,284.4L326.6,283.3L323.4,283.8M330.5,286.4L330.5,288.8L327.5,290.6M335.8,287.0L337.4,288.3L340.7,287.0L343.0,290.4L343.7,292.8L342.9,295.9L340.6,299.9L338.3,297.2L337.6,295.4L336.2,293.3L333.2,293.5L331.3,295.7M338.3,297.2L335.5,301.5M340.6,299.9L342.7,302.5L345.0,304.6L344.7,308.2M342.9,295.9L343.7,292.8L347.8,291.7L349.5,292.2L350.2,289.1L352.0,287.2L353.0,284.3L355.3,283.5L357.6,281.9L360.6,279.8L362.7,280.1M349.5,292.2L351.3,294.1L355.7,294.3L355.9,298.6L354.8,302.2L355.0,306.2M355.7,294.3L355.7,290.6L362.0,290.4L364.3,290.6M362.0,290.4L363.4,293.3L363.6,297.8L363.8,301.7L365.0,303.6M364.3,290.6L365.9,295.9L365.9,303.3M364.3,290.6L367.8,288.3L370.5,288.8L369.4,295.7L368.5,298.8L368.5,302.8M362.7,280.1L363.1,282.7L364.5,285.4L367.3,287.0L367.8,288.3M362.7,280.1L370.3,279.0L372.0,275.1L371.9,269.2M370.5,288.8L371.7,284.1L376.1,283.5L380.2,284.6L386.9,284.3L391.1,285.1L393.6,283.5M393.6,283.5L393.4,281.7L397.8,275.1L398.1,267.2L396.5,264.3L396.3,259.0M393.6,283.5L394.8,286.7L396.0,289.3L394.2,290.6L392.1,294.9L389.6,300.9L386.8,300.9L385.0,301.7L382.2,307.0M394.8,286.7L396.9,287.7L396.9,290.9L398.1,293.4L394.7,294.1L397.5,297.2L398.2,299.9L396.1,303.3L395.9,305.7L396.4,307.5L399.7,312.0L399.7,315.2M398.2,299.9L401.7,299.6L405.2,298.3L406.5,295.9L409.5,295.7L412.5,291.7L415.2,290.9M417.2,268.2L417.5,278.3L415.0,278.8L414.1,282.5L413.5,286.2L415.2,290.9L417.2,293.5L416.7,296.4L418.4,297.5L420.7,299.9L423.6,302.2L425.9,306.2M417.2,293.5L419.7,293.8L420.4,292.5L423.7,294.6L426.9,294.3L429.0,294.9L430.8,293.3L433.4,294.1L437.2,288.8L438.8,287.5L438.7,292.8L441.1,294.6L441.3,297.0L438.8,299.1L441.2,300.4L444.3,305.4L445.7,307.5M399.7,312.0L400.8,310.4L405.5,310.4M399.7,315.2L396.0,313.8L393.2,313.8L388.5,313.8L388.5,317.0L385.0,317.0M388.5,313.8L385.0,313.6M396.0,313.8L395.7,316.2L394.8,316.0L393.2,316.2L395.7,319.4L395.7,324.7L395.3,325.7L392.5,326.0L391.3,324.9L389.2,325.7L389.2,327.6L388.0,329.9M392.7,331.8L392.0,331.3L390.1,332.8M400.8,335.5L392.9,335.2M417.7,353.9L413.1,353.9M412.8,362.4L412.5,366.8L404.7,365.5L394.4,365.5L392.1,364.5L389.2,365.1M416.0,366.1L411.3,367.1L410.4,367.9L410.1,377.7L407.8,377.7L407.5,385.0M419.6,366.1L418.9,365.8L416.0,366.1M420.3,366.6L422.2,371.1L425.5,373.7L426.1,376.3L429.2,378.2M432.2,360.8L437.6,363.7L437.8,369.7L436.4,375.8L433.5,378.7M431.9,358.7L438.9,356.6M438.9,356.6L441.6,357.6L442.0,360.0L443.4,363.9L444.6,361.8L444.8,358.1L442.1,355.2L441.8,351.8L442.3,350.2L446.7,350.5L450.0,349.4L456.0,347.6M442.3,350.2L441.1,344.7L438.5,344.4M441.1,344.7L439.3,348.1M433.5,341.3L430.6,331.5M430.6,331.5L433.2,328.9L433.9,326.0L433.2,322.6L431.1,323.3M430.4,328.9L433.2,328.9M430.0,325.7L433.9,326.0M433.2,322.6L441.2,322.3L449.7,327.6L449.7,328.9L453.4,332.0M431.1,321.0L431.8,323.3M435.1,314.0L433.9,310.4L437.6,309.9L441.3,308.6L442.5,309.9L443.7,315.2L441.4,319.1L441.2,322.3M441.3,308.6L445.7,307.5L448.1,308.0L450.9,310.2L454.1,310.7L457.6,309.4L459.7,309.2L457.7,312.3L457.7,322.0L458.8,324.0M459.7,309.2L462.2,307.8L466.9,306.7L473.7,298.6L471.3,298.6L464.3,295.9L461.8,292.0L461.3,290.6L462.2,289.5M461.3,290.6L459.0,290.6L459.0,289.1L460.3,286.8L461.9,286.4M460.3,286.8L456.4,282.5L452.2,281.2L449.6,280.4L446.4,281.9M446.4,281.9L447.3,274.8L450.6,272.2M446.4,281.9L445.7,286.2L443.4,288.5L441.7,291.7L441.3,297.0M434.6,390.4L434.6,387.7L434.4,387.7M383.2,165.6L384.9,163.4L385.4,161.0L384.5,159.4L384.4,156.3L387.2,153.5L387.8,150.9L389.2,148.6L390.5,146.6L392.9,144.7L396.3,143.8L397.1,142.4M397.1,142.4L398.6,141.8L401.3,143.2L404.6,143.4L405.9,141.0L409.0,140.1L411.2,142.3L411.1,142.4M397.1,142.4L402.3,145.0L403.8,148.8L404.7,149.8M413.6,162.1L415.5,160.3L418.8,157.5L419.3,156.5L416.0,154.6L416.3,152.1L414.6,151.8L415.1,150.0L412.5,147.2L413.6,145.4L410.9,144.3L411.1,142.4L412.8,141.2L413.9,140.7M416.5,172.9L415.0,170.0L414.4,169.5L413.8,166.6L414.5,164.7M425.5,183.0L424.4,180.5L426.6,179.7L423.5,177.7L422.2,176.2L422.5,175.7L422.0,174.2L419.0,174.0L416.5,172.9M440.9,195.8L440.9,194.5L443.8,193.7L443.5,189.6L441.5,188.8L439.1,188.6L437.8,187.3L435.0,187.3L433.2,185.8L430.7,185.0L430.8,183.8L429.3,182.2L425.5,183.0M465.5,209.5L464.2,211.1L461.1,209.4L458.6,207.7L455.3,207.4L454.2,206.8L451.9,205.9L449.7,205.7L446.5,205.3M539.8,190.6L536.6,189.6L534.9,189.3L528.8,185.8L526.0,186.3L523.2,186.3L515.8,180.0L512.2,178.2L508.8,179.2L506.7,179.5L506.6,178.0L501.6,177.7L499.7,175.0L496.1,175.0L490.0,176.7L485.5,177.7L481.9,178.5L483.8,180.7L482.1,183.2L485.6,185.0L482.8,186.3L479.6,185.8L475.6,185.8L472.9,186.8L469.2,184.5L465.2,184.5L463.4,184.0L460.8,188.1L460.5,188.6L457.6,187.6L457.5,191.1L457.2,192.4L458.8,193.7L461.1,194.2L463.5,197.1L464.1,197.8M598.3,188.7L594.3,187.8L592.8,187.6L590.4,189.6L585.8,190.4L582.6,190.1L578.6,188.6L575.9,187.4L572.1,187.8L568.3,187.1L566.9,185.0L561.9,184.0L559.1,183.0L558.2,184.5L560.2,187.1L559.2,188.8L554.2,188.3L548.1,186.3L545.5,187.1L543.2,188.6L540.7,190.4M639.4,208.2L638.2,206.6L638.5,205.1L636.4,201.4L639.9,200.9L638.0,195.2L638.0,192.4L634.2,194.2L631.1,194.2L628.7,191.9L625.0,189.9L620.3,188.8L619.4,187.6L612.1,181.7L609.1,180.5L604.9,179.3L600.8,180.0L600.0,181.5L602.6,183.2L602.5,187.3L602.9,188.6L601.1,189.6L598.3,188.7M408.3,168.6L411.6,168.8L414.4,169.5M402.8,173.0L406.2,172.2L410.1,172.2L413.6,174.0L416.5,172.9M413.6,174.0L414.2,175.0L412.4,176.0L412.1,177.5L408.3,178.3L406.7,177.3M390.1,178.5L390.6,180.2L390.1,181.2L391.5,183.0L392.3,185.8L391.9,186.0M408.3,178.3L409.6,181.5L408.3,182.7L409.4,184.3L410.6,186.3L408.2,189.6L408.2,190.6M409.4,184.3L412.0,183.5L416.1,184.3L420.1,184.3L423.3,185.0L425.5,183.0M409.6,181.5L408.3,178.3M379.1,176.0L381.5,176.2M376.0,180.0L376.5,181.5L375.6,183.5L374.2,183.8L374.1,186.3L374.5,188.1L375.2,189.6M374.2,183.8L372.2,184.6L369.2,184.8M375.2,189.6L378.9,190.9L377.8,194.5M391.9,186.0L387.0,187.6L390.3,191.5L388.6,192.9L388.9,194.7L383.8,194.7L381.9,194.7L377.8,194.5M367.4,185.5L370.7,188.3L374.2,189.6L375.2,189.6M391.9,186.0L396.3,187.3L400.3,189.6L408.2,190.6M358.4,205.3L363.7,206.9L369.0,208.0M378.0,204.3L376.8,201.2L376.5,198.9L374.8,198.1L377.8,194.5M376.5,198.9L379.8,198.1L383.9,196.3L381.9,194.7M383.9,196.3L387.6,196.3L390.5,197.3L390.5,199.4M343.5,209.0L348.4,209.0L347.4,214.0L346.4,218.2L346.1,221.6M390.3,191.5L392.7,190.9L396.7,191.7L397.2,193.4L395.4,196.3L390.5,197.3M396.7,191.7L400.3,189.6M397.2,193.4L400.8,194.0L404.1,192.2L407.4,192.4L408.2,190.6M395.4,196.3L396.3,197.6L394.5,198.1L390.5,199.9M396.3,197.6L398.9,198.9L401.4,198.9L404.3,198.2L405.9,198.1L407.5,193.7L409.1,193.4M401.4,198.9L401.9,201.4L402.7,201.4L403.4,204.3L401.4,208.0M401.9,201.4L395.1,200.7L395.8,203.3L399.4,206.4M404.3,198.2L406.9,201.7L409.7,202.2L409.3,204.0L410.7,205.9L409.7,208.2L411.2,210.8M409.7,202.2L410.6,204.3L415.9,204.7L418.8,203.4L422.4,204.6M403.4,204.3L405.1,206.9L404.8,207.6L403.2,209.3M404.8,207.6L406.0,209.3L406.0,211.3L407.1,212.0L406.6,214.0L405.2,215.0M406.0,209.3L409.7,208.2M407.1,212.0L411.0,210.8L414.4,210.3L417.8,210.8L418.9,210.7L417.8,212.1M417.8,210.8L418.3,209.3L421.7,209.0M409.1,193.4L413.3,194.2L416.6,192.8L420.9,199.9L423.9,200.4M416.6,192.8L419.0,192.3L421.9,193.7L424.5,197.6L420.9,199.9M408.2,190.6L407.4,192.4L409.1,193.4M450.7,210.3L455.0,211.3L458.1,210.8L461.1,209.4M455.0,211.3L456.0,214.0L458.5,215.0L456.9,215.8L458.6,219.5L459.6,221.6L454.5,221.8L449.4,222.6L445.0,222.6L442.4,224.2L440.9,225.0M458.1,210.8L459.4,212.7L462.3,215.5L462.6,217.1L458.5,215.0M462.6,217.1L465.4,215.0L467.3,218.4L468.0,218.4M454.5,221.8L452.7,227.9L447.9,231.6L443.8,234.5L441.1,233.4L440.9,231.8L442.8,229.5L441.4,228.4L441.0,226.8M440.9,231.8L439.8,232.4M441.1,233.4L441.2,236.6L440.6,241.9L440.4,241.9M440.4,241.9L438.5,237.1M447.9,231.6L449.2,234.9L444.5,236.6L447.0,239.2L446.0,240.5L442.9,242.7L440.6,242.3M449.2,234.9L452.0,235.5L456.0,237.6L462.4,242.7L466.5,242.9L468.8,240.3L469.3,240.5M466.5,242.9L468.5,243.3L469.3,244.5L470.9,244.5M459.6,221.6L462.9,225.3L462.3,230.0L464.0,232.6L468.7,235.8L468.5,238.2L469.4,239.5L469.3,240.5M477.4,254.3L479.4,256.1M479.4,256.1L481.9,259.3L487.9,259.8L489.2,261.6L488.0,266.9L481.4,269.6L474.8,270.6L471.4,274.6L468.9,274.3L463.3,273.8L461.5,273.8L460.7,276.4M481.4,269.6L484.4,275.7M487.9,259.8L488.9,255.8L490.0,254.0M468.0,218.4L468.0,218.4M479.4,221.3L483.9,219.2L486.0,218.7L491.0,220.8L495.7,223.2L496.2,226.6L495.7,230.8L497.7,236.6L500.0,238.4L498.5,241.1L502.2,242.1L504.7,247.9L501.7,253.2M498.5,241.1L510.5,240.9L510.2,238.2L516.2,235.5L517.6,231.8L518.8,229.2L518.7,225.5L518.4,223.4L523.4,222.6L524.8,221.3M495.7,223.2L499.3,226.6L503.1,223.9L506.8,221.2L510.2,222.1L513.0,221.8L515.8,218.4L518.3,222.9L521.5,220.9L524.8,221.3M506.8,221.2L506.5,219.5L504.2,218.7L496.4,214.5L494.3,211.3L490.3,210.6L489.5,208.5L486.1,206.9L484.8,208.5L483.2,209.5L483.9,210.8L481.6,210.8L480.4,211.0L476.7,208.2L473.9,209.8M481.6,210.8L479.1,201.2L483.9,199.6L490.0,202.7L498.7,204.6L501.8,206.4L502.4,209.0L507.4,211.6L509.5,210.6L512.6,208.3L512.5,207.4M512.5,207.4L518.0,208.0L519.0,205.9L522.0,206.8L529.4,206.8L532.4,208.5M509.5,210.6L512.7,211.3L514.7,210.2L518.4,212.0L514.4,213.7L513.4,213.7L514.0,215.3L520.8,215.5M513.4,213.7L510.4,212.4L509.3,213.7L508.2,216.1L510.3,218.9L510.2,222.1M517.2,257.4L518.3,255.6L523.3,255.3L521.9,251.9L519.0,249.0L520.5,245.8L524.0,246.1L526.4,240.8L528.4,237.6L526.7,233.2L529.3,234.5L532.7,226.0M526.7,233.2L524.7,229.2L527.7,223.2M543.2,240.0L541.9,243.7L546.0,246.1L551.6,247.1L555.9,249.5L561.0,250.0L560.4,246.1M562.5,247.7L564.9,249.2L570.0,248.7L568.6,246.3M565.1,261.9L564.0,255.6L562.1,255.0L561.9,251.6L565.6,252.9L571.6,253.7L569.3,256.1L570.6,259.0L571.9,257.2L573.6,263.5L573.1,265.1M573.6,263.5L574.5,259.0L574.1,256.4L576.6,252.4L577.4,251.1L580.5,246.6L580.9,245.2M592.9,262.7L591.0,265.9L592.5,268.2L594.2,268.2L594.7,273.5L596.5,271.7L599.4,271.1L602.8,273.8L603.4,276.4L605.5,278.3L605.7,281.7L606.8,281.8L610.3,281.7L610.0,279.6L607.8,276.4L603.6,271.4L600.2,268.8L601.3,265.9L597.9,264.5L595.0,260.6M591.0,265.9L586.7,267.4L585.6,270.9L589.8,276.7L588.6,279.6L591.4,284.8L592.7,288.5L590.8,293.3M605.7,281.7L599.9,282.2L598.7,283.8L600.4,289.1M610.3,281.7L610.9,287.2L607.3,288.8L608.2,291.2L604.2,292.2M594.9,302.8L597.3,304.6L599.5,303.3M635.6,220.1L637.3,218.7L639.5,217.9M598.3,188.7L598.8,193.4L600.2,194.0L603.2,194.0L606.5,196.0L609.9,196.8L605.2,197.6L603.3,199.4L600.2,201.2L595.8,201.2L595.6,202.7L597.7,204.3L595.8,207.2L590.0,208.0L585.7,210.0L576.0,207.4L567.8,207.0L565.7,206.6L562.1,203.3L557.4,201.3L551.9,200.7L549.7,196.3L545.6,193.4L541.8,191.9L540.7,190.4M539.8,190.6L537.5,192.4L538.4,195.8L533.1,195.5L533.5,199.9L529.3,201.4L532.0,206.4L532.4,208.5M532.4,208.5L529.5,210.6L526.3,211.9L522.6,212.9L520.8,215.5M520.8,215.5L521.3,218.2L524.1,218.2L524.8,221.3M524.8,221.3L527.7,223.2L532.7,226.0M532.7,226.0L536.2,229.2L536.6,233.7L537.8,234.0L537.9,237.1L543.2,240.0M543.2,240.0L545.9,240.3L551.1,243.4L555.6,245.8L560.4,246.1M560.4,246.1L561.9,245.8L562.5,247.7L564.5,245.0L568.6,246.3M568.6,246.3L569.5,246.3L573.0,243.2L576.1,242.9L577.7,242.1L580.9,245.2M580.9,245.2L582.9,246.9L584.4,246.9L585.4,251.4L583.7,254.5L583.9,256.6L587.1,258.5L588.0,261.1L590.8,263.0L592.9,262.7M592.9,262.7L594.6,263.8L594.1,260.6L595.0,260.6M595.0,260.6L596.8,260.3L599.0,260.1L601.6,258.2L604.9,259.8L605.4,261.6L608.6,263.0M629.1,214.5L631.3,211.6L632.0,209.5L635.2,210.6L636.0,209.0L636.7,206.6L639.0,208.0L639.4,208.2M617.6,314.4L619.6,317.3L623.5,315.7L628.9,316.0L630.0,313.1L631.2,308.6L635.8,308.6M628.9,309.1L630.0,308.3L630.2,306.7M690.5,326.5L689.3,343.6M652.2,343.9L652.5,343.4M348.0,175.0L346.7,177.7L350.0,178.2"/>
<path class="cc" fill-rule="evenodd" fill="#8c96c6" d="M125.1,141.2L128.2,141.4L130.0,142.7L133.6,141.8L136.6,141.4L138.0,141.6L142.7,140.5L146.3,140.3L149.3,139.2L149.3,139.8L150.7,141.6L154.1,140.1L154.0,141.6L159.2,140.7L163.9,142.7L165.2,144.7L168.0,145.4L173.6,145.0L175.3,145.9L175.0,147.2L178.7,145.0L182.3,143.0L183.2,144.7L187.1,145.2L190.6,145.2L194.0,145.2L196.2,143.6L198.2,144.3L197.4,146.3L201.3,143.6L199.6,142.5L200.7,140.3L204.9,137.5L207.9,135.9L209.4,137.0L209.1,139.2L207.7,141.0L209.0,141.4L208.1,143.6L209.3,146.6L212.4,145.9L217.4,142.5L219.6,140.7L223.6,141.0L224.2,142.5L223.0,144.7L218.7,147.9L214.7,148.6L212.0,148.8L213.8,146.3L207.9,150.9L205.2,153.5L199.7,154.9L195.7,156.8L192.4,158.9L188.6,161.0L186.1,163.4L185.0,166.4L187.1,166.6L185.3,170.8L188.7,170.0L191.9,171.0L193.5,173.2L197.3,175.0L202.4,175.2L199.7,180.7L200.5,184.0L201.9,185.3L202.9,185.3L205.8,182.0L207.3,178.2L206.5,176.7L212.1,174.5L214.9,172.0L216.6,169.5L216.0,167.1L214.5,166.4L218.0,163.4L218.5,161.0L220.5,157.7L224.9,157.9L228.0,158.2L230.3,159.6L230.6,160.8L233.2,161.0L232.7,163.4L231.7,165.9L232.6,167.8L235.8,167.1L239.8,164.7L242.5,162.5L243.9,165.9L244.2,169.5L244.6,173.2L245.7,175.2L249.2,176.2L249.8,178.2L251.5,180.7L251.2,183.2L247.9,184.8L245.0,185.3L241.2,187.6L237.1,187.6L233.1,187.6L228.0,187.8L225.5,190.1L222.7,191.1L219.5,193.2L215.7,196.3L218.1,195.2L222.2,192.4L228.1,190.4L231.2,190.6L231.4,191.4L230.0,192.9L226.4,193.4L228.9,194.0L228.7,195.8L227.8,197.8L229.4,198.6L231.3,199.1L234.4,199.4L235.2,198.1L237.3,196.0L237.3,197.8L238.1,198.6L235.1,200.4L229.3,202.2L225.5,204.6L224.0,205.3L223.2,203.8L224.0,202.5L227.2,200.4L228.1,199.4L225.7,200.4L224.6,200.7L222.4,200.9L222.1,200.7L221.3,199.4L222.5,195.8L221.7,195.1L219.9,194.9L217.6,196.8L216.3,198.9L213.0,201.2L206.3,201.2L201.9,203.5L200.6,204.7L196.6,204.7L195.3,205.2L195.4,206.8L192.6,208.0L189.7,208.5L186.9,209.8L185.7,209.0L187.5,207.4L187.9,206.4L189.2,204.8L190.3,200.4L188.5,199.1L187.6,197.3L187.0,196.3L184.5,194.5L181.5,192.7L178.6,193.4L176.4,192.9L174.1,192.7L172.4,191.9L169.3,191.7L169.7,190.1L169.0,189.9L168.6,190.9L158.7,190.9L148.5,190.9L138.3,190.9L128.2,190.9L118.0,190.9L111.7,190.9L111.7,190.9L111.0,189.1L110.1,187.6L107.1,186.0L107.2,183.8L107.2,182.0L107.2,179.5L107.3,177.5L109.2,175.7L109.2,175.7L111.3,173.5L109.3,171.7L110.3,167.3L109.6,165.1L109.7,163.9L107.1,164.7L103.8,166.1L103.5,163.2L100.7,162.7L104.9,158.7L110.1,153.9L115.3,149.3L120.7,144.7L125.1,141.2ZM110.1,192.4L107.3,191.7L105.6,189.6L104.0,186.8L105.3,186.0L109.3,187.8L110.4,190.4ZM101.0,183.2L100.3,180.7L101.4,178.0L103.9,178.2L102.1,180.2ZM240.4,194.5L242.7,192.2L241.8,191.9L243.9,190.4L246.4,187.1L248.5,185.0L251.3,184.3L249.6,186.3L248.0,188.3L250.0,188.3L249.0,189.6L251.7,189.3L253.5,190.1L252.8,192.2L254.0,191.9L253.3,194.5L253.9,194.7L252.3,196.9L250.7,196.5L250.7,195.0L248.8,196.0L247.1,196.3L247.3,194.7L244.1,194.5ZM231.7,188.6L234.2,190.1L236.5,190.6L235.6,189.1ZM229.2,196.8L230.6,198.1L233.9,197.6L233.2,198.6L230.5,198.6ZM242.9,158.9L240.9,158.7L238.7,157.5L235.5,156.8L232.9,154.9L230.4,153.0L225.7,153.5L223.6,152.5L225.1,150.9L229.0,150.9L232.1,150.2L234.2,148.1L237.3,145.9L236.7,144.1L234.5,143.6L233.4,141.4L231.8,140.1L229.0,140.5L224.8,140.5L220.8,140.3L218.8,139.6L215.8,139.2L214.2,138.1L215.3,135.9L218.0,133.8L220.9,132.3L225.1,132.1L225.2,133.8L222.6,135.9L223.4,137.0L226.0,133.8L231.3,132.3L232.0,133.4L232.3,135.1L236.0,134.5L239.2,134.5L240.9,136.6L243.5,137.7L245.9,139.0L248.7,139.8L249.4,141.4L247.4,143.4L250.8,145.0L253.5,146.3L255.3,147.7L253.4,149.8L249.8,151.6L247.4,149.5L244.7,148.1L243.2,149.3L244.5,151.6L246.4,154.9L245.2,156.5L242.3,155.8L239.4,154.5L240.9,156.8ZM232.8,133.4L235.3,132.3L238.8,133.0L239.2,133.8L235.5,134.0ZM208.3,151.6L212.2,149.8L213.3,150.7L215.7,149.8L216.5,152.5L217.4,153.9L218.2,154.6L215.1,154.6L213.1,153.7L209.0,155.8L206.0,154.9L208.0,153.2ZM212.1,156.5L212.9,158.2L216.7,157.9L218.3,156.8L214.8,156.5ZM216.3,157.7L216.6,159.6L217.9,157.9ZM230.6,144.3L231.9,146.3L234.1,144.7L232.8,143.6ZM164.1,142.5L167.2,142.7L169.1,143.4L171.7,143.4L177.0,143.2L181.7,142.7L184.8,142.1L189.5,142.5L191.7,141.0L190.6,139.4L193.6,139.8L195.6,138.5L193.8,137.0L196.4,134.5L193.0,133.8L190.2,133.4L187.5,134.5L185.4,136.4L183.8,134.9L179.6,134.2L177.6,133.2L172.9,133.8L169.7,135.1L170.2,136.8L174.2,137.7L169.5,139.0L174.6,139.6L169.5,140.5L166.4,140.3L164.6,141.2ZM155.5,138.1L158.8,138.1L162.9,137.5L167.9,135.9L175.3,133.8L176.2,132.3L175.9,131.3L171.1,130.7L165.9,131.1L162.9,132.8L158.1,135.3L155.4,136.8ZM195.7,135.9L198.3,136.6L200.2,137.2L203.8,135.9L206.3,134.2L206.8,132.1L203.2,131.7L199.1,133.4L196.4,134.5ZM206.5,135.7L208.9,135.7L212.7,134.2L216.1,133.2L218.3,131.7L214.5,131.5L210.2,131.9L207.5,133.8ZM193.7,142.5L195.5,143.4L198.7,143.6L200.9,142.1L200.5,140.5L197.0,140.7ZM178.7,129.6L180.6,130.7L185.1,130.9L189.0,130.3L194.2,129.8L197.5,129.0L198.4,127.6L195.3,127.6L195.6,126.2L191.7,126.8L187.1,126.8L182.2,127.6L179.3,128.6ZM172.2,127.6L177.8,128.0L182.3,127.0L185.5,125.2L182.3,124.8L176.5,126.2ZM199.1,129.6L205.4,129.6L210.0,129.0L211.6,127.6L210.6,126.4L206.6,127.2L202.8,127.2L199.5,128.6ZM210.9,129.6L214.0,130.5L216.3,129.2L214.8,128.2L212.0,128.6ZM217.3,130.3L223.1,130.9L229.6,130.7L235.3,130.5L238.3,128.8L235.1,128.0L230.1,128.4L223.7,128.6L224.8,126.8L221.4,126.4L215.0,126.6L212.9,127.8L216.1,128.4L218.6,129.0ZM227.1,126.8L233.2,126.8L238.8,127.4L243.5,125.6L245.4,123.7L250.8,122.7L251.6,121.2L258.7,120.6L264.8,118.9L271.7,117.5L276.5,116.1L271.1,115.1L263.2,114.8L254.7,115.0L245.3,115.9L238.9,116.5L233.9,117.2L233.2,118.9L238.4,119.4L235.2,120.8L237.0,121.8L230.9,123.3L231.0,125.2L226.5,125.2ZM220.4,123.3L224.9,123.3L230.8,122.7L232.3,120.8L230.1,119.0L229.0,117.7L224.9,118.7L222.1,120.8ZM203.7,124.1L210.2,124.3L214.5,123.3L215.0,121.8L210.6,121.2L206.5,122.5ZM215.7,124.1L219.5,124.1L220.1,122.3L217.4,122.7ZM193.1,123.1L197.5,123.7L199.9,122.5L196.7,122.1ZM188.3,124.8L194.4,124.8L197.5,123.7L193.3,123.5Z"/>
<path class="cc" fill-rule="evenodd" fill="#8c96c6" d="M413.9,140.7L415.8,140.5L418.7,141.6L423.1,142.3L427.1,144.1L431.8,145.4L433.8,147.2L432.9,148.6L429.5,149.1L423.1,148.1L418.4,146.8L420.7,148.6L423.8,151.6L424.3,153.0L427.5,154.2L430.1,153.9L428.6,153.0L427.2,151.1L429.5,151.8L432.9,152.5L434.2,152.5L432.6,150.4L434.7,148.8L436.3,148.4L439.1,148.8L438.8,147.2L437.1,145.9L435.9,143.4L439.8,143.8L442.0,145.2L441.0,147.0L443.7,147.2L444.8,145.7L447.6,144.3L452.6,143.8L454.5,144.3L455.9,143.6L459.8,143.0L462.2,142.7L463.7,140.7L464.7,141.0L471.0,141.8L474.9,142.7L478.1,143.8L476.8,140.3L473.0,138.1L472.4,135.9L473.4,133.8L474.4,133.0L477.1,133.4L479.8,134.2L481.5,137.0L483.0,140.3L485.1,142.7L488.1,144.7L487.8,147.9L489.5,147.0L488.9,144.7L488.3,142.5L485.7,140.3L485.0,138.1L485.0,135.9L483.4,134.2L487.9,134.9L490.3,134.9L494.4,135.9L498.9,138.1L496.2,135.5L491.2,132.8L499.1,131.9L498.6,129.6L502.1,128.4L508.8,127.4L514.0,126.6L515.9,125.6L519.1,124.3L522.5,124.8L527.3,126.2L531.9,126.2L537.0,127.8L540.2,129.6L537.1,131.7L540.8,132.1L543.9,132.8L546.6,132.3L552.7,133.4L560.4,133.8L560.2,132.3L563.6,131.9L570.1,133.8L573.6,135.9L573.7,136.8L578.8,138.1L578.3,136.4L580.7,137.0L583.7,136.8L587.6,137.2L590.6,137.0L589.3,134.9L589.2,134.0L591.9,134.5L599.6,135.3L605.1,135.7L609.8,137.2L613.8,138.3L618.5,138.1L623.8,138.3L630.9,141.0L633.2,141.4L636.0,141.0L641.7,141.4L643.7,140.5L649.9,143.0L647.2,140.1L652.4,140.7L657.8,141.0L662.2,141.6L667.3,142.7L680.4,151.4L679.6,152.1L677.3,152.3L680.4,153.2L686.1,156.3L688.2,157.9L683.9,159.1L681.2,159.1L679.1,161.0L679.3,163.7L673.5,162.5L671.0,163.4L668.5,163.7L668.8,165.9L671.1,168.3L669.7,168.8L676.4,172.7L677.3,175.7L677.9,176.7L677.7,180.0L675.9,180.7L677.8,183.5L676.9,186.0L672.2,182.0L667.3,178.2L662.5,173.2L660.7,169.5L661.6,168.3L662.1,165.4L662.0,163.0L661.1,159.8L660.8,157.5L658.7,157.9L655.6,159.1L653.2,159.4L650.1,159.8L652.0,164.4L649.2,165.6L644.4,164.7L640.4,164.4L635.6,165.1L630.0,165.1L628.9,168.8L627.2,172.0L626.9,176.0L630.4,177.7L632.7,179.2L635.3,177.7L640.9,180.2L642.7,182.7L644.9,184.5L646.4,188.3L648.9,192.2L648.2,195.2L648.2,198.1L647.5,201.2L646.8,203.8L644.3,206.6L640.9,206.1L639.5,207.4L639.4,208.2L639.4,208.2L638.2,206.6L638.5,205.1L636.4,201.4L639.9,200.9L638.0,195.2L638.0,192.4L634.2,194.2L631.1,194.2L628.7,191.9L625.0,189.9L620.3,188.8L619.4,187.6L612.1,181.7L609.1,180.5L604.9,179.3L600.8,180.0L600.0,181.5L602.6,183.2L602.5,187.3L602.9,188.6L601.1,189.6L598.3,188.7L598.3,188.7L594.3,187.8L592.8,187.6L590.4,189.6L585.8,190.4L582.6,190.1L578.6,188.6L575.9,187.4L572.1,187.8L568.3,187.1L566.9,185.0L561.9,184.0L559.1,183.0L558.2,184.5L560.2,187.1L559.2,188.8L554.2,188.3L548.1,186.3L545.5,187.1L543.2,188.6L540.7,190.4L540.7,190.4L539.8,190.6L539.8,190.6L536.6,189.6L534.9,189.3L528.8,185.8L526.0,186.3L523.2,186.3L515.8,180.0L512.2,178.2L508.8,179.2L506.7,179.5L506.6,178.0L501.6,177.7L499.7,175.0L496.1,175.0L490.0,176.7L485.5,177.7L481.9,178.5L483.8,180.7L482.1,183.2L485.6,185.0L482.8,186.3L479.6,185.8L475.6,185.8L472.9,186.8L469.2,184.5L465.2,184.5L463.4,184.0L460.8,188.1L460.5,188.6L457.6,187.6L457.5,191.1L457.2,192.4L458.8,193.7L461.1,194.2L463.5,197.1L464.1,197.8L464.1,197.8L462.9,199.1L461.0,199.6L460.5,202.0L460.0,202.7L462.0,205.1L462.6,206.6L464.8,209.0L465.5,209.5L465.5,209.5L464.2,211.1L461.1,209.4L458.6,207.7L455.3,207.4L454.2,206.8L451.9,205.9L449.7,205.7L446.5,205.3L446.5,205.3L444.1,203.8L441.8,202.5L440.2,201.7L438.7,200.7L440.5,200.2L440.9,198.9L441.3,196.8L443.1,195.5L440.9,195.8L440.9,195.8L440.9,194.5L443.8,193.7L443.5,189.6L441.5,188.8L439.1,188.6L437.8,187.3L435.0,187.3L433.2,185.8L430.7,185.0L430.8,183.8L429.3,182.2L425.5,183.0L425.5,183.0L424.4,180.5L426.6,179.7L423.5,177.7L422.2,176.2L422.5,175.7L422.0,174.2L419.0,174.0L416.5,172.9L416.5,172.9L415.0,170.0L414.4,169.5L413.8,166.6L414.5,164.7L414.5,164.7L416.2,163.7L418.4,163.6L416.0,163.0L413.6,162.1L413.6,162.1L415.5,160.3L418.8,157.5L419.3,156.5L416.0,154.6L416.3,152.1L414.6,151.8L415.1,150.0L412.5,147.2L413.6,145.4L410.9,144.3L411.1,142.4L412.8,141.2L413.9,140.7ZM57.1,142.7L60.1,144.1L60.8,145.9L63.5,147.0L65.2,148.8L65.3,149.2L62.4,150.2L59.1,150.7L55.4,153.0L52.9,153.2L50.4,151.8L49.4,150.7L50.4,148.6L48.6,148.8L45.4,150.9L44.0,151.4ZM400.5,177.1L401.0,176.6L401.1,175.8L402.8,175.0L405.0,175.5L406.6,176.1L406.7,177.3ZM641.1,177.2L645.3,180.7L648.7,184.5L652.7,188.3L656.7,190.9L652.6,190.1L655.7,194.7L658.4,196.5L659.7,198.3L656.8,197.1L657.1,198.9L653.8,194.7L651.4,190.9L648.4,187.1L644.5,183.2L641.8,179.7ZM453.6,139.0L448.5,137.0L446.2,135.7L447.3,133.2L448.9,131.7L449.1,129.4L451.8,127.6L457.6,127.0L462.8,125.8L466.7,125.6L464.2,127.6L457.6,129.2L456.2,130.7L455.0,132.8L453.8,134.9L457.3,138.1L456.9,139.0ZM425.3,118.9L430.0,119.5L434.0,119.0L429.2,118.3ZM502.1,121.8L507.0,122.1L508.7,121.2L506.2,119.9L502.3,119.7L500.4,120.5ZM511.2,123.7L515.7,123.7L517.9,122.5L513.1,121.2L509.4,121.8ZM497.6,119.4L502.1,119.5L501.2,118.3L497.0,117.8ZM576.4,129.2L581.1,130.3L585.2,129.8L587.7,129.4L587.6,128.4L580.9,127.2L576.6,127.4L575.3,128.0ZM586.6,133.0L590.4,133.4L591.9,132.8L588.3,131.9L585.9,131.9ZM592.4,129.4L598.8,130.0L598.3,129.2L593.7,128.8ZM589.8,128.8L592.0,129.2L589.9,128.4ZM657.7,138.1L660.2,138.3L657.9,137.0L656.3,137.0ZM64.2,138.3L67.7,138.2L69.8,137.5L68.5,136.8L66.5,137.0Z"/>
<path class="cc" fill-rule="evenodd" fill="#9ebcda" d="M608.6,263.0L609.9,262.4L612.3,263.0L613.5,266.1L614.8,265.9L614.2,263.5L617.2,262.7L620.8,261.1L622.6,260.6L625.1,259.8L628.1,257.7L630.1,255.0L632.7,252.4L632.5,249.0L633.9,245.8L635.1,243.2L635.0,240.5L632.2,239.0L633.9,237.9L633.0,236.1L630.0,233.4L627.1,229.2L623.9,227.4L625.2,224.7L629.0,222.4L628.6,221.1L625.8,220.5L622.9,220.8L621.0,221.6L619.9,219.5L616.6,217.9L616.1,216.8L618.8,215.8L620.9,212.1L623.5,212.7L623.2,215.5L623.9,217.4L625.9,215.8L629.1,214.5L629.1,214.5L631.3,211.6L632.0,209.5L635.2,210.6L636.0,209.0L636.7,206.6L639.0,208.0L639.4,208.2L639.4,208.2L638.2,206.6L638.5,205.1L636.4,201.4L639.9,200.9L638.0,195.2L638.0,192.4L634.2,194.2L631.1,194.2L628.7,191.9L625.0,189.9L620.3,188.8L619.4,187.6L612.1,181.7L609.1,180.5L604.9,179.3L600.8,180.0L600.0,181.5L602.6,183.2L602.5,187.3L602.9,188.6L601.1,189.6L598.3,188.7L598.3,188.7L598.8,193.4L600.2,194.0L603.2,194.0L606.5,196.0L609.9,196.8L605.2,197.6L603.3,199.4L600.2,201.2L595.8,201.2L595.6,202.7L597.7,204.3L595.8,207.2L590.0,208.0L585.7,210.0L576.0,207.4L567.8,207.0L565.7,206.6L562.1,203.3L557.4,201.3L551.9,200.7L549.7,196.3L545.6,193.4L541.8,191.9L540.7,190.4L540.7,190.4L539.8,190.6L539.8,190.6L537.5,192.4L538.4,195.8L533.1,195.5L533.5,199.9L529.3,201.4L532.0,206.4L532.4,208.5L532.4,208.5L529.5,210.6L526.3,211.9L522.6,212.9L520.8,215.5L520.8,215.5L521.3,218.2L524.1,218.2L524.8,221.3L524.8,221.3L527.7,223.2L532.7,226.0L532.7,226.0L536.2,229.2L536.6,233.7L537.8,234.0L537.9,237.1L543.2,240.0L543.2,240.0L545.9,240.3L551.1,243.4L555.6,245.8L560.4,246.1L560.4,246.1L561.9,245.8L562.5,247.7L564.5,245.0L568.6,246.3L568.6,246.3L569.5,246.3L573.0,243.2L576.1,242.9L577.7,242.1L580.9,245.2L580.9,245.2L582.9,246.9L584.4,246.9L585.4,251.4L583.7,254.5L583.9,256.6L587.1,258.5L588.0,261.1L590.8,263.0L592.9,262.7L592.9,262.7L594.6,263.8L594.1,260.6L595.0,260.6L595.0,260.6L596.8,260.3L599.0,260.1L601.6,258.2L604.9,259.8L605.4,261.6L608.6,263.0ZM611.2,269.0L613.0,271.4L615.3,270.3L616.3,268.0L614.5,266.8L612.3,267.2Z"/>
<path class="cc" fill-rule="evenodd" fill="#8c96c6" d="M692.4,347.9L694.1,352.6L694.0,357.6L697.3,358.9L696.8,363.2L697.3,369.5L700.5,371.6L702.8,373.7L703.3,378.4L705.6,379.2L705.2,381.6L708.5,386.4L708.1,389.5L707.1,395.1L703.3,401.1L700.4,405.1L696.0,408.8L693.3,411.9L689.7,415.9L687.8,418.5L683.9,419.3L677.8,422.7L676.0,420.6L673.6,421.1L670.2,420.9L666.9,419.8L666.5,416.9L667.1,413.5L665.5,413.5L666.7,411.1L667.4,407.2L666.7,406.7L665.6,410.6L662.4,412.7L664.0,412.2L661.1,411.4L660.1,411.7L659.5,405.9L655.8,404.0L653.7,402.7L649.0,403.2L643.3,404.8L637.1,406.7L634.6,409.0L630.3,408.8L626.5,409.3L621.2,412.2L618.0,411.9L615.6,410.2L616.1,408.2L619.2,404.0L619.3,398.8L619.3,392.7L618.5,388.7L619.5,384.0L622.3,379.0L623.5,377.1L628.9,374.0L634.4,372.4L639.2,371.3L642.9,367.6L643.2,364.5L646.2,365.5L646.7,362.6L650.9,359.2L655.3,355.9L657.8,358.9L661.1,358.9L662.0,355.5L664.3,352.3L669.0,351.6L667.4,349.4L669.4,350.0L675.0,351.8L678.7,352.1L676.5,354.7L674.5,358.9L677.0,361.6L679.6,363.9L682.2,365.8L685.7,365.8L687.8,361.8L689.4,356.6L689.4,352.9L691.1,348.7ZM671.7,426.9L674.9,428.0L678.8,427.4L676.9,430.8L674.2,433.4L671.2,434.5L669.7,432.7L670.8,430.0ZM661.5,413.8L663.8,413.5L664.3,414.3L661.3,414.7Z"/>
<path class="cc" fill-rule="evenodd" fill="#6e016b" d="M390.6,334.9L391.3,333.4L392.7,331.8L394.8,331.5L395.7,332.4L396.6,331.8L399.0,330.2L399.9,325.5L401.3,323.1L403.4,320.7L403.9,317.0L404.3,313.6L405.5,310.4L405.5,308.2L407.6,306.2L410.1,308.0L414.3,308.8L415.5,307.0L418.9,306.2L421.0,306.5L425.9,306.2L428.3,308.3L430.8,307.5L433.9,310.4L433.9,313.3L435.1,314.0L433.2,316.5L431.4,317.5L431.1,321.0L431.1,323.3L430.0,325.7L430.4,328.9L430.6,331.5L431.0,334.9L430.8,337.3L433.5,341.3L429.3,342.1L428.1,343.9L428.5,346.5L427.9,350.8L429.3,352.3L431.1,351.8L431.1,355.0L429.0,354.5L425.2,350.2L422.4,351.0L420.8,349.2L418.7,349.7L417.8,348.4L413.8,349.2L412.8,345.0L413.0,341.5L412.8,338.9L409.8,338.1L407.5,340.5L402.8,341.0L400.8,335.5L392.9,335.2Z"/>
<path class="cc" fill-rule="evenodd" fill="#edf8fb" d="M413.1,353.9L412.8,362.4L416.0,366.1L419.6,366.1L420.3,366.6L424.2,367.0L428.8,361.7L432.2,360.8L431.9,358.7L438.9,356.6L437.7,355.5L438.5,352.9L439.3,350.2L439.3,348.1L438.5,344.4L434.1,342.3L433.5,341.3L429.3,342.1L428.1,343.9L428.5,346.5L427.9,350.8L429.3,352.3L431.1,351.8L431.1,355.0L429.0,354.5L425.2,350.2L422.4,351.0L420.8,349.2L418.7,349.7L417.8,348.4L417.7,353.9Z"/>
<path class="cc" fill-rule="evenodd" fill="#bfd3e6" d="M399.2,395.1L401.0,400.3L402.7,403.5L402.7,406.1L402.7,409.8L403.6,410.1L406.1,411.4L410.7,409.8L414.2,409.3L418.9,409.3L422.5,408.0L425.6,405.6L429.7,401.4L432.3,397.7L435.4,394.8L436.4,390.6L434.6,390.4L432.7,391.6L431.7,390.3L432.3,387.9L434.4,387.7L434.8,384.3L433.5,378.7L429.2,378.2L426.6,379.2L423.5,382.1L420.9,384.8L419.7,387.4L417.0,387.2L414.3,386.4L411.2,390.3L408.9,390.6L407.5,385.0L407.1,394.5L405.3,395.9L402.6,395.9L401.3,395.3ZM422.6,397.7L424.0,400.3L425.2,399.5L427.3,398.5L428.1,397.2L426.4,395.1L424.3,395.9Z"/>
<path class="cc" fill-rule="evenodd" fill="#9ebcda" d="M476.3,351.3L477.5,354.7L478.4,359.7L477.8,361.8L476.5,361.0L476.2,364.5L474.5,369.7L472.7,375.0L471.0,380.3L469.0,385.3L465.2,386.9L462.6,385.6L461.5,382.7L460.8,379.0L462.3,374.5L463.8,372.1L463.5,366.6L464.6,362.4L468.6,361.0L471.3,358.9L472.8,356.8L474.7,354.7Z"/>
<path class="cc" fill-rule="evenodd" fill="#9ebcda" d="M349.3,225.3L350.6,225.0L352.3,226.8L355.6,226.6L357.4,227.1L358.4,228.2L358.4,231.8L359.3,234.5L355.8,235.0L354.2,237.9L351.3,239.2L349.9,241.1L346.5,241.9L342.7,244.0L342.7,246.7L332.6,246.7L333.2,246.0L336.4,245.0L339.3,242.4L340.6,240.3L340.4,236.6L341.6,234.0L343.4,231.8L347.2,230.0L348.6,227.1Z"/>
<path class="cc" fill-rule="evenodd" fill="#8c96c6" d="M168.6,261.9L171.0,259.8L174.5,258.6L178.0,258.6L181.2,260.1L184.5,260.9L186.6,262.4L189.3,264.3L192.5,266.3L190.6,267.2L184.4,267.3L185.8,265.3L182.9,264.3L180.9,262.4L176.5,261.1L175.4,260.5L171.9,261.1ZM172.6,263.0L173.8,263.1L173.4,261.9Z"/>
<path class="cc" fill-rule="evenodd" fill="#8c96c6" d="M638.8,270.9L641.9,271.4L643.4,274.8L642.2,277.7L642.7,280.6L644.5,282.5L647.4,283.0L649.1,285.4L649.0,286.4L647.2,285.1L645.2,283.8L643.2,283.0L641.4,283.3L640.5,281.7L639.2,280.4L638.2,276.9L639.2,276.1L638.7,273.0ZM653.0,293.8L655.0,295.4L656.0,299.6L655.5,302.8L653.8,301.7L653.8,304.6L650.9,303.3L650.2,300.1L647.9,299.9L645.9,301.3L645.7,299.1L647.7,297.2L649.9,298.3L651.6,297.0ZM649.7,286.7L652.0,286.7L653.3,290.1L651.7,290.1L651.0,288.3ZM650.0,289.3L651.4,289.9L652.0,293.0L651.3,292.8ZM644.6,288.5L647.2,289.3L647.1,290.9L644.9,292.0ZM646.9,290.9L648.3,291.2L648.0,294.9L646.6,294.6ZM648.2,292.0L649.4,290.1L648.8,294.1ZM634.5,297.5L637.6,293.3L639.2,289.9L638.7,292.5L636.0,296.4ZM640.4,284.3L642.7,284.6L643.0,287.0L641.6,287.0ZM649.3,293.8L650.8,293.3L650.7,294.2Z"/>
<path class="cc" fill-rule="evenodd" fill="#9ebcda" d="M690.5,326.5L693.9,328.1L698.5,329.7L701.3,332.6L701.7,334.2L705.1,335.5L705.7,337.3L703.8,337.6L704.1,339.2L706.3,341.0L707.0,343.6L709.8,345.2L711.5,346.8L709.8,347.7L705.3,346.3L703.2,344.4L701.2,341.0L698.5,340.0L695.3,341.5L693.9,343.9L689.3,343.6L689.8,337.8L690.1,332.8ZM707.0,334.7L709.7,335.7L712.7,336.0L715.2,334.4L716.5,332.6L715.9,330.7L714.7,330.7L714.1,332.8L711.0,334.2L708.7,334.2ZM713.1,326.5L716.0,328.4L718.0,330.7L718.4,332.0L717.5,331.5L715.5,328.9L713.3,327.3ZM721.7,333.9L723.7,336.0L724.5,337.6L723.1,337.6L722.1,335.5Z"/>
<path class="cc" fill-rule="evenodd" fill="#9ebcda" d="M737.3,372.6L740.0,374.8L742.6,377.9L742.4,378.7L740.2,377.4L737.5,374.5Z"/>
</g>
<!-- legend -->
<g>
<text class="lg" x="195" y="531.2" textLength="46.4" lengthAdjust="spacingAndGlyphs">No data</text>
<rect x="172" y="538.4" width="46.7" height="9.8" fill="url(#hatch)" stroke="#c4c4c4" stroke-width="0.7"/>
<path d="M195.2,535.5V538.2" stroke="#c4c4c4" stroke-width="0.7"/>
<rect x="238.5" y="538" width="63" height="10.4" fill="#edf8fb"/>
<rect x="301.4" y="538" width="63" height="10.4" fill="#bfd3e6"/>
<rect x="364.3" y="538" width="63" height="10.4" fill="#9ebcda"/>
<rect x="427.2" y="538" width="63" height="10.4" fill="#8c96c6"/>
<rect x="490.1" y="538" width="63" height="10.4" fill="#8c6bb1"/>
<rect x="553" y="538" width="63" height="10.4" fill="#88419d"/>
<path d="M615.9,538H673L679,543.2L673,548.4H615.9Z" fill="#6e016b"/>
<path d="M238.7,538.3H427M238.7,548.1H427M238.7,535.5V548.4M301.4,535.5V548.4M364.3,535.5V548.4M427.2,535.5V548.4M490.1,535.5V548.4M553,535.5V548.4M615.9,535.5V548.4" stroke="#b0b0b0" stroke-width="0.6" fill="none"/>
<text class="lg" x="239.1" y="531.2" textLength="15.2" lengthAdjust="spacingAndGlyphs">0 t</text>
<text class="lg" x="302.3" y="531.2" textLength="31.2" lengthAdjust="spacingAndGlyphs">300 t</text>
<text class="lg" x="365.4" y="531.2" textLength="41.6" lengthAdjust="spacingAndGlyphs">1,000 t</text>
<text class="lg" x="427.5" y="531.2" textLength="42.1" lengthAdjust="spacingAndGlyphs">3,000 t</text>
<text class="lg" x="491" y="531.2" textLength="48.6" lengthAdjust="spacingAndGlyphs">10,000 t</text>
<text class="lg" x="553.6" y="531.2" textLength="49.2" lengthAdjust="spacingAndGlyphs">30,000 t</text>
<text class="lg" x="617" y="531.2" textLength="57.1" lengthAdjust="spacingAndGlyphs">100,000 t</text>
</g>
<text class="ft" x="16.6" y="580.7" font-weight="bold" textLength="71" lengthAdjust="spacingAndGlyphs">Data source:</text>
<text class="ft" x="92.3" y="580.7" textLength="336.5" lengthAdjust="spacingAndGlyphs">Energy Institute - Statistical Review of World Energy (2025)</text>
<text class="ft" x="722.6" y="580.7" textLength="107.6" lengthAdjust="spacingAndGlyphs">fossil-fuels | CC BY</text>
</svg>
</body></html>
